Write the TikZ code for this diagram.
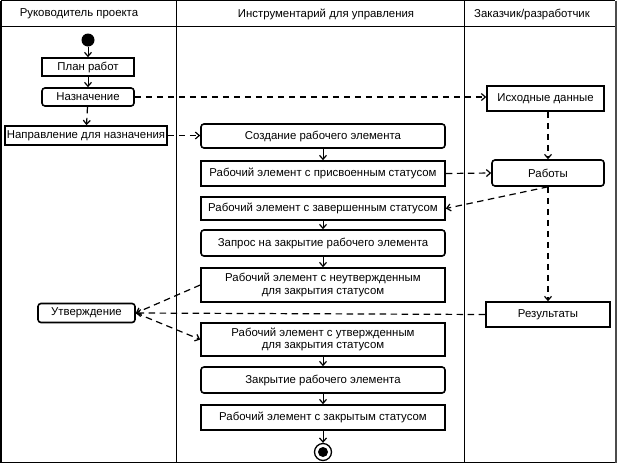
\documentclass[tikz,border=0pt]{standalone}
\usepackage{fontspec}
\setmainfont{Liberation Sans}
\usetikzlibrary{arrows.meta}
\begin{document}
\begin{tikzpicture}[x=1pt,y=-1pt,
  every node/.style={font=\fontsize{11.4}{12.5}\selectfont, inner sep=0pt, align=center},
  sbox/.style={draw, line width=1.6pt},
  rbox/.style={draw, line width=1.6pt, rounded corners=3pt},
  lane/.style={line width=0.9pt},
  flow/.style={line width=1pt, -{Straight Barb[length=4pt,width=7pt,line width=1.2pt]}},
  dflow/.style={line width=1.2pt, dash pattern=on 6.5pt off 4.5pt, -{Straight Barb[length=4pt,width=7pt,line width=1.2pt]}},
  hdr/.style={font=\fontsize{11.4}{12.5}\selectfont}]
\useasboundingbox (0,0) rectangle (617,464);
% frame
\draw[lane] (1,0.5) -- (615,0.5);
\draw[line width=1.4pt] (1,0.5) -- (1,462.5) -- (615.5,462.5);
\draw[line width=2pt, black!70] (615.5,0.5) -- (615.5,462.5);
\draw[lane] (1,26) -- (615,26);
\draw[lane] (176,0) -- (176,462);
\draw[lane] (464,0) -- (464,462);
% headers
\node[hdr] (h1) at (79,14) {Руководитель проекта};
\node[hdr] (h2) at (326,14) {Инструментарий для управления};
\node[hdr] (h3) at (532,14) {Заказчик/разработчик};
% left lane
\node[circle, fill=black, minimum size=13pt] (start) at (88,40) {};
\node[sbox, minimum width=92pt, minimum height=18pt] (plan) at (88,67) {План работ};
\node[rbox, minimum width=92pt, minimum height=18pt] (nazn) at (88,97) {Назначение};
\node[sbox, minimum width=162pt, minimum height=19pt] (napr) at (86,135.5) {Направление для назначения};
\node[rbox, minimum width=97pt, minimum height=19pt] (utv) at (86.5,313) {Утверждение};
% middle lane
\node[rbox, minimum width=244pt, minimum height=24pt] (sozd) at (323,136) {Создание рабочего элемента};
\node[sbox, minimum width=244pt, minimum height=25pt] (prisv) at (323,173.5) {Рабочий элемент с присвоенным статусом};
\node[sbox, minimum width=244pt, minimum height=23pt] (zav) at (323,208.5) {Рабочий элемент с завершенным статусом};
\node[rbox, minimum width=244pt, minimum height=26pt] (zapr) at (323,243) {Запрос на закрытие рабочего элемента};
\node[sbox, minimum width=244pt, minimum height=34pt] (neutv) at (323,285) {Рабочий элемент с неутвержденным\\для закрытия статусом};
\node[sbox, minimum width=244pt, minimum height=33pt] (utvst) at (323,339.5) {Рабочий элемент с утвержденным\\для закрытия статусом};
\node[rbox, minimum width=244pt, minimum height=26pt] (zakr) at (323,380) {Закрытие рабочего элемента};
\node[sbox, minimum width=244pt, minimum height=25pt] (zakrst) at (323,417.5) {Рабочий элемент с закрытым статусом};
\node[circle, draw, line width=1.3pt, minimum size=17pt] (end) at (323,452) {};
\node[circle, fill=black, minimum size=10pt] (endin) at (end.center) {};
% right lane
\node[sbox, minimum width=117pt, minimum height=25pt] (isx) at (545.5,98.5) {Исходные данные};
\node[rbox, minimum width=112pt, minimum height=26pt] (rab) at (548,173) {Работы};
\node[sbox, minimum width=124pt, minimum height=25pt] (res) at (548,314.5) {Результаты};
% solid flows
\draw[flow] (start) -- (plan);
\draw[flow] (plan) -- (nazn);
\draw[flow] (sozd) -- (prisv);
\draw[flow] (zav) -- (zapr);
\draw[flow] (zapr) -- (neutv);
\draw[flow] (utvst) -- (zakr);
\draw[flow] (zakr) -- (zakrst);
\draw[flow] (zakrst) -- (end);
% dashed flows
\draw[dflow] (nazn) -- (napr);
\draw[dflow] (napr.east) -- (sozd.west |- napr.east);
\draw[dflow] (nazn.east) -- (isx.west |- nazn.east);
\draw[dflow] (isx.south -| rab.north) -- (rab.north);
\draw[dflow] (prisv.east) -- (rab.west);
\coordinate (rabs) at (rab.south);
\draw[dflow] (rabs) -- (zav.east);
\draw[dflow] (rabs) -- (res.north);
\draw[dflow] (neutv.west) -- (utv.east);
\draw[dflow] (res.west) -- (utv.east);
\draw[dflow] (utv.east) -- (utvst.west);
\end{tikzpicture}
\end{document}
